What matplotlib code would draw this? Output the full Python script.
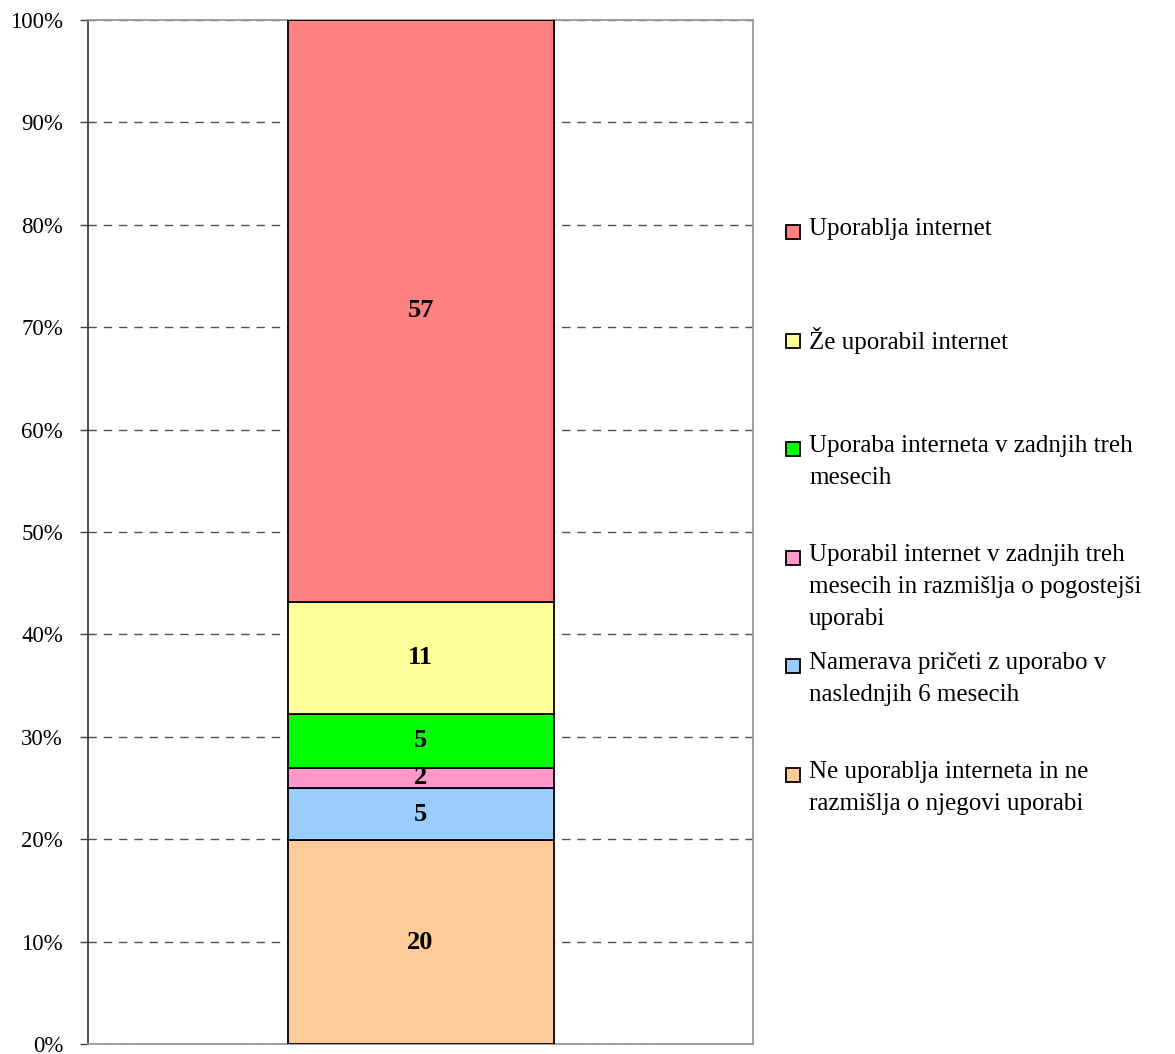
import matplotlib.pyplot as plt
from matplotlib.patches import Rectangle

plt.rcParams['font.family'] = ['Liberation Serif', 'DejaVu Serif']

# od spodaj navzgor
categories = [
    "Ne uporablja interneta in ne\nrazmišlja o njegovi uporabi",
    "Namerava pričeti z uporabo v\nnaslednjih 6 mesecih",
    "Uporabil internet v zadnjih treh\nmesecih in razmišlja o pogostejši\nuporabi",
    "Uporaba interneta v zadnjih treh\nmesecih",
    "Že uporabil internet",
    "Uporablja internet",
]
values = [19.9, 5.1, 2.0, 5.2, 11.0, 56.8]
colors = ["#FFCC99", "#99CCFF", "#FF99CC", "#00FF00", "#FFFF99", "#FF8080"]
yticks = [0, 10, 20, 30, 40, 50, 60, 70, 80, 90, 100]
ytick_labels = [f"{t}%" for t in yticks]

W, H = 1175, 1054
fig = plt.figure(figsize=(W / 100, H / 100), dpi=100)
ax = fig.add_axes([88 / W, 10 / H, (753 - 88) / W, (1044 - 20) / H])

bottom = 0
for v, c in zip(values, colors):
    ax.bar(0, v, width=0.4, bottom=bottom, color=c, edgecolor='black', linewidth=1.3, zorder=3)
    ax.text(0, bottom + v / 2, f"{round(v)}", ha='center', va='center',
            fontsize=19, fontweight='bold', zorder=4)
    bottom += v

ax.set_xlim(-0.5, 0.5)
ax.set_ylim(0, 100)
ax.set_yticks(yticks)
ax.set_yticklabels(ytick_labels, fontsize=16.5)
ax.set_xticks([])
ax.tick_params(axis='y', direction='out', length=6, width=1, color='#404040', pad=12)
ax.yaxis.grid(True, linestyle=(0, (6, 5)), color='#505050', linewidth=1, zorder=0)
for s in ['top', 'right', 'bottom']:
    ax.spines[s].set_color('#999999')
    ax.spines[s].set_linewidth(1.3)
ax.spines['left'].set_color('#404040')
ax.spines['left'].set_linewidth(1.3)

# legenda (od zgoraj navzdol)
for i, (lab, c) in enumerate(zip(categories[::-1], colors[::-1])):
    ytop = 218 + i * 108.6
    fig.text(809 / W, 1 - ytop / H, lab, fontsize=18, va='top', ha='left', linespacing=1.58)
    fig.add_artist(Rectangle((786 / W, 1 - (ytop + 21) / H), 14 / W, 14 / H,
                             transform=fig.transFigure, facecolor=c, edgecolor='black', linewidth=1.3))

fig.savefig("out.png", dpi=100)
